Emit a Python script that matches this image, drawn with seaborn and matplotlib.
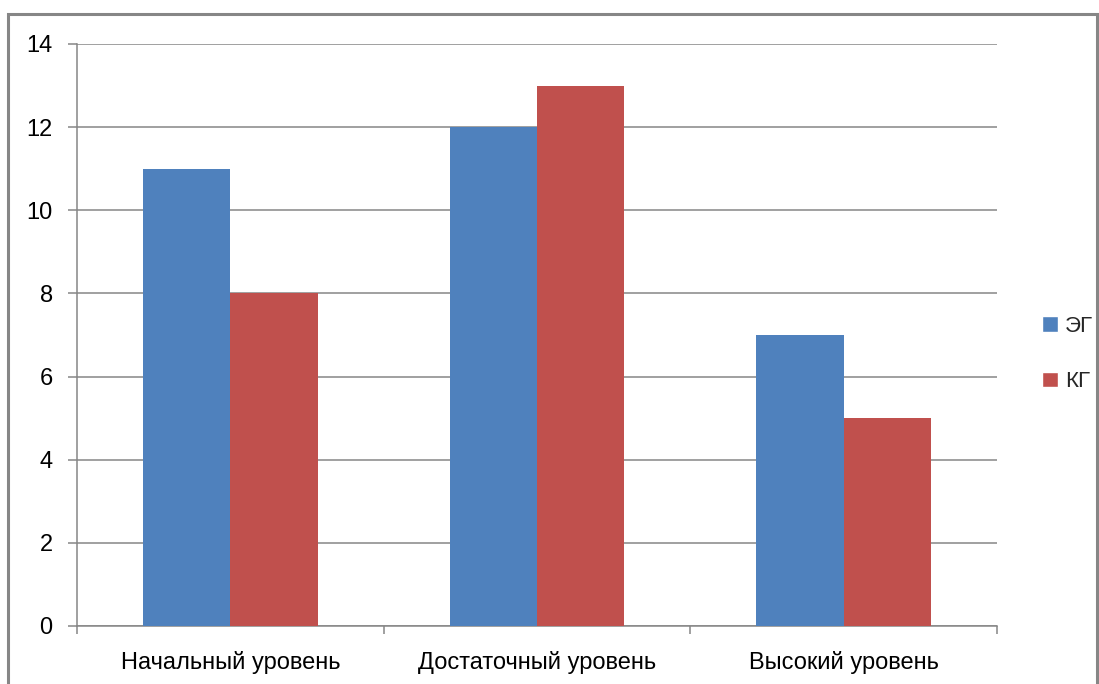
import matplotlib
matplotlib.use("Agg")
import matplotlib.pyplot as plt
import seaborn as sns
import pandas as pd
from matplotlib.patches import Rectangle

categories = ["Начальный уровень", "Достаточный уровень", "Высокий уровень"]
groups = ["ЭГ", "КГ"]
eg_values = [11, 12, 7]
kg_values = [8, 13, 5]

df = pd.DataFrame({
    "level": categories * 2,
    "group": [groups[0]] * 3 + [groups[1]] * 3,
    "value": eg_values + kg_values,
})

sns.set_theme(style="white")
plt.rcParams["font.family"] = ["Liberation Sans", "DejaVu Sans"]

grey = "#868686"
fig = plt.figure(figsize=(10.99, 6.84), dpi=100)
ax = fig.add_axes([77 / 1099, 1 - 626 / 684, (997 - 77) / 1099, (626 - 44) / 684])

sns.barplot(data=df, x="level", y="value", hue="group", order=categories,
            hue_order=groups, palette=["#4F81BD", "#C0504D"], width=0.57,
            saturation=1, ax=ax, zorder=3)
for p in ax.patches:
    p.set_edgecolor("none")

ax.set_ylim(0, 14)
ax.set_xlim(-0.5, 2.5)
ax.set_yticks(range(0, 15, 2))
ax.yaxis.grid(True, color=grey, linewidth=1.1, zorder=0)
ax.set_axisbelow(True)
ax.set_xlabel("")
ax.set_ylabel("")

for side in ["top", "right"]:
    ax.spines[side].set_visible(False)
for side in ["left", "bottom"]:
    ax.spines[side].set_color(grey)
    ax.spines[side].set_linewidth(1.1)

ax.tick_params(axis="y", which="major", left=True, length=6.5, width=1.1,
               color=grey, labelsize=17, pad=11, labelcolor="black")
ax.tick_params(axis="x", which="major", bottom=False, length=0, pad=18,
               labelsize=17, labelcolor="black")
ax.set_xticks([-0.5, 0.5, 1.5, 2.5], minor=True)
ax.tick_params(axis="x", which="minor", bottom=True, length=6, width=1.1,
               color=grey)

leg = ax.get_legend()
handles = leg.legend_handles
leg.remove()
fig.legend(handles, groups, loc="center left",
           bbox_to_anchor=(1042 / 1099, 1 - 354 / 684), frameon=False,
           borderpad=0, borderaxespad=0,
           fontsize=16, handlelength=0.72, handleheight=0.72,
           handletextpad=0.3, labelspacing=1.55)

fig.patches.append(Rectangle((8 / 1099, -0.05), (1097 - 8) / 1099,
                             1.05 - 14 / 684, transform=fig.transFigure,
                             fill=False, edgecolor=grey, linewidth=2.2))

fig.savefig("out.png", dpi=100)
